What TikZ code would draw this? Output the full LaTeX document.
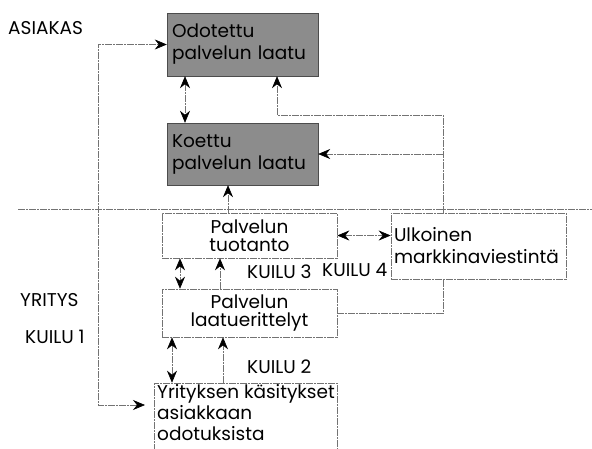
\documentclass[tikz,border=0pt]{standalone}
\usepackage{fontspec}
\setmainfont{Poppins}
\usetikzlibrary{arrows.meta}
\begin{document}
\begin{tikzpicture}[x=1pt,y=-1pt,
  line/.style={draw=black!55, line width=0.6pt, dash pattern=on 7pt off 1pt on 2pt off 1pt},
  tip/.style={-{Stealth[black,length=12pt,width=10pt,inset=4pt]}},
  tips/.style={{Stealth[black,length=12pt,width=10pt,inset=4pt]}-{Stealth[black,length=12pt,width=10pt,inset=4pt]}},
  darkbox/.style={fill=black!45, draw=black!70, inner ysep=0pt, inner xsep=5pt, align=left,
    font=\fontsize{18.5}{22}\selectfont},
  litebox/.style={line, inner sep=0pt, align=center, font=\fontsize{18.5}{18.5}\selectfont},
  lbl/.style={anchor=west, inner sep=0pt, font=\fontsize{18.5}{20}\selectfont}
]
\useasboundingbox (0,0) rectangle (592,448);

% customer side
\node[darkbox, minimum width=151pt, minimum height=63pt, text width=141pt] (odo) at (242.5,44.5)
  {Odotettu\\palvelun laatu};
\node[darkbox, minimum width=151pt, minimum height=62pt, text width=141pt] (koe) at (242.5,154)
  {Koettu\\palvelun laatu};

% company side
\node[litebox, minimum width=175pt, minimum height=45pt] (tuo) at (249.5,235.5) {Palvelun\\tuotanto};
\node[litebox, minimum width=175pt, minimum height=48pt] (erit) at (249.5,313) {Palvelun\\laatuerittelyt};
\node[litebox, minimum width=175pt, minimum height=66pt, text width=169pt, align=left,
  font=\fontsize{18.5}{22}\selectfont] (ulk) at (478.5,246)
  {Ulkoinen\\markkinaviestintä};
\node[line, minimum width=183pt, minimum height=90pt, inner sep=0pt] (yri) at (245.5,428) {};
\node[anchor=north west, inner sep=0pt, align=left, font=\fontsize{18.5}{21}\selectfont] (yritxt)
  at (157,384) {Yrityksen käsitykset\\asiakkaan\\odotuksista};

% labels
\node[lbl] (asiakas) at (8,28) {ASIAKAS};
\node[lbl] (yritys) at (20,300) {YRITYS};
\node[lbl] (k1) at (25,337) {KUILU 1};
\node[lbl] (k2) at (247,367) {KUILU 2};
\node[lbl] (k3) at (247,272) {KUILU 3};
\node[lbl] (k4) at (322,270) {KUILU 4};

% reference points for the connector routes
\coordinate (sepL) at (18,209);
\coordinate (sepR) at (592,209);
\coordinate (xl) at (98,0);
\coordinate (ylo) at (145,405);
\coordinate (bend) at (443,115);
\coordinate (xa) at (185,0);
\coordinate (xb) at (277,0);
\coordinate (xd) at (228,0);
\coordinate (xe) at (180,0);
\coordinate (xf) at (220,0);
\coordinate (xg) at (172,0);
\coordinate (xh) at (223,0);

% divider between customer and company
\draw[line] (sepL) -- (sepR);

% connectors
\draw[line, tips] (ylo) -| (xl |- odo.west) -- (odo.west);
\draw[line, tips] (odo.south -| xa) -- (koe.north -| xa);
\draw[line, tip] (ulk.north -| bend) -- (bend) -| (odo.south -| xb);
\draw[line, tip] (bend |- koe.east) -- (koe.east);
\draw[line, tip] (tuo.north -| xd) -- (koe.south -| xd);
\draw[line, tips] (tuo.east) -- (tuo.east -| ulk.west);
\draw[line, tips] (tuo.south -| xe) -- (erit.north -| xe);
\draw[line, tip] (erit.north -| xf) -- (tuo.south -| xf);
\draw[line] (erit.east) -| (ulk.south -| bend);
\draw[line, tips] (erit.south -| xg) -- (yri.north -| xg);
\draw[line, tip] (yri.north -| xh) -- (erit.south -| xh);
\end{tikzpicture}
\end{document}
